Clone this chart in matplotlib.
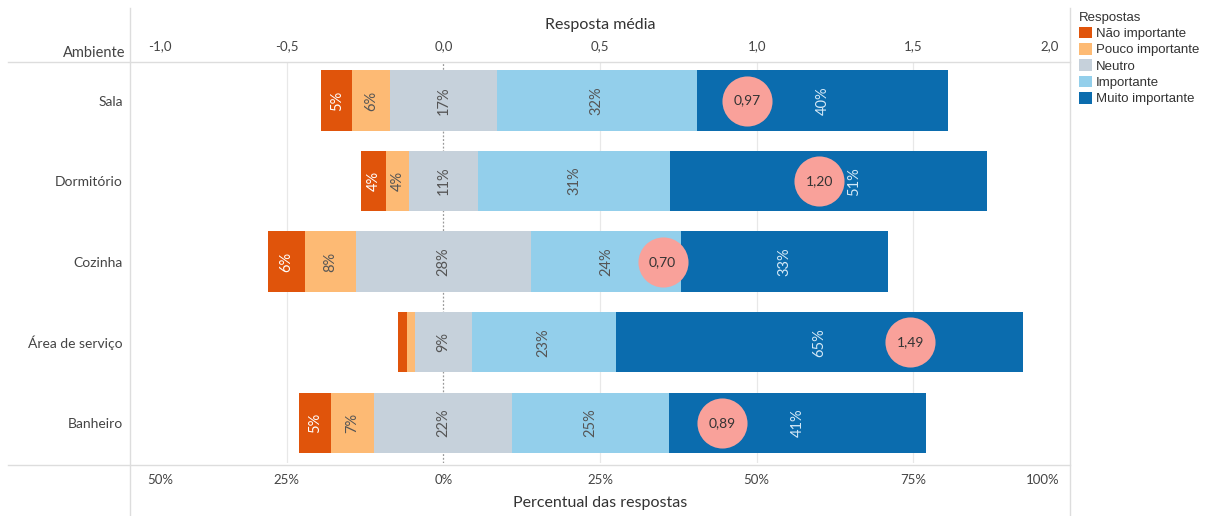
import numpy as np
import matplotlib
matplotlib.use("Agg")
import matplotlib.pyplot as plt
from matplotlib.patches import Patch
from matplotlib.lines import Line2D
from matplotlib.transforms import ScaledTranslation

plt.rcParams['font.family'] = ['Lato', 'DejaVu Sans']

# data (percent of answers per room)
ambientes = ["Sala", "Dormitório", "Cozinha", "Área de serviço", "Banheiro"]
respostas = ["Não importante", "Pouco importante", "Neutro", "Importante", "Muito importante"]
nao_importante = [5, 4, 6, 1.4, 5]
pouco_importante = [6, 3.6, 8, 1.3, 7]
neutro = [17, 11, 28, 9, 22]
importante = [32, 30.7, 24, 23, 25]
muito_importante = [40, 50.6, 33, 65, 41]
media = [0.97, 1.20, 0.70, 1.49, 0.89]

cores = ["#E0540B", "#FDBA74", "#C6D1DB", "#93CFEB", "#0B6CAE"]
cor_texto = ["white", "#555555", "#555555", "#555555", "#D5E9F7"]

W, H = 1215, 516
fig = plt.figure(figsize=(W / 100, H / 100), dpi=100)
ax = fig.add_axes([130 / W, (H - 463) / H, 940 / W, 401 / H])

series = np.array([nao_importante, pouco_importante, neutro, importante, muito_importante])
y = np.arange(len(ambientes))
mx = np.array(media) * 50  # 1,0 on top axis = 50% on bottom axis

# neutral block centred on zero
left = -(series[0] + series[1] + series[2] / 2)
for k in range(5):
    ax.barh(y, series[k], left=left, height=0.75, color=cores[k], zorder=2)
    for i in range(len(ambientes)):
        v = series[k][i]
        if v >= 2:
            xl = left[i] + v / 2
            if abs(xl - mx[i]) < 4:  # keep label clear of the mean circle
                xl = mx[i] + 5.6
            ax.text(xl, y[i], f"{v:.0f}%", rotation=90, ha="center",
                    va="center", color=cor_texto[k], fontsize=10.5, zorder=3)
    left = left + series[k]

# mean response circles
ax.scatter(mx, y, s=1300, color="#F9A19A", zorder=4, linewidths=0)
for i in range(len(media)):
    ax.text(mx[i], y[i], f"{media[i]:.2f}".replace(".", ","), ha="center", va="center",
            fontsize=10, color="#333333", zorder=5)

ax.set_xlim(-50, 100)
ax.set_ylim(4.5, -0.48)
for s in ax.spines.values():
    s.set_visible(False)

# bottom axis
pticks = [-50, -25, 0, 25, 50, 75, 100]
ax.set_xticks(pticks)
ax.set_xticklabels([f"{abs(t)}%" for t in pticks], fontsize=9.5, color="#444444")
ax.tick_params(axis="x", length=0, pad=8)
ax.set_xlabel("Percentual das respostas", fontsize=11.5, color="#333333", labelpad=7)
for t in [-25, 25, 50, 75]:
    ax.axvline(t, color="#E8E8E8", lw=0.9, zorder=0)
ax.axvline(0, color="#999999", lw=0.9, ls=(0, (1.5, 1.5)), zorder=1)

labs = ax.get_xticklabels()
labs[0].set_transform(labs[0].get_transform() + ScaledTranslation(0.30, 0, fig.dpi_scale_trans))
labs[-1].set_transform(labs[-1].get_transform() + ScaledTranslation(-0.27, 0, fig.dpi_scale_trans))

# top axis (mean response)
top = ax.secondary_xaxis("top", functions=(lambda x: x / 50, lambda x: x * 50))
mticks = [-1.0, -0.5, 0.0, 0.5, 1.0, 1.5, 2.0]
top.set_xticks(mticks)
top.set_xticklabels([f"{t:.1f}".replace(".", ",") for t in mticks], fontsize=9.5, color="#444444")
top.tick_params(axis="x", length=0, pad=7)
top.set_xlabel("Resposta média", fontsize=11.5, color="#333333", labelpad=8)
for s in top.spines.values():
    s.set_visible(False)
tl = top.get_xticklabels()
tl[0].set_transform(tl[0].get_transform() + ScaledTranslation(0.30, 0, fig.dpi_scale_trans))
tl[-1].set_transform(tl[-1].get_transform() + ScaledTranslation(-0.20, 0, fig.dpi_scale_trans))

# row labels
ax.set_yticks(y)
ax.set_yticklabels(ambientes, fontsize=10, color="#444444")
ax.tick_params(axis="y", length=0, pad=5)
fig.text(125 / W, 1 - 53 / H, "Ambiente", ha="right", va="center", fontsize=10.5, color="#444444")

# frame lines
lc = "#DDDDDD"
fig.add_artist(Line2D([8 / W, 1070 / W], [1 - 62 / H] * 2, color=lc, lw=1))
fig.add_artist(Line2D([8 / W, 1070 / W], [1 - 465 / H] * 2, color=lc, lw=1))
fig.add_artist(Line2D([130 / W] * 2, [0, 1 - 8 / H], color=lc, lw=1))
fig.add_artist(Line2D([1070 / W] * 2, [0, 1 - 8 / H], color=lc, lw=1))

# legend
handles = [Patch(facecolor=c, edgecolor="none") for c in cores]
leg = fig.legend(handles, respostas, loc="upper left", bbox_to_anchor=(1076 / W, 1 - 9 / H),
                 frameon=False, title="Respostas", alignment="left",
                 prop={"family": "Liberation Sans", "size": 9.5},
                 handlelength=1.0, handleheight=1.0, handletextpad=0.3,
                 labelspacing=0.22, borderpad=0.2, borderaxespad=0)
leg.get_title().set_fontfamily("Liberation Sans")
leg.get_title().set_fontsize(9.5)
leg.get_title().set_color("#333333")
for t in leg.get_texts():
    t.set_color("#333333")

fig.savefig("out.png", dpi=100, facecolor="white")
